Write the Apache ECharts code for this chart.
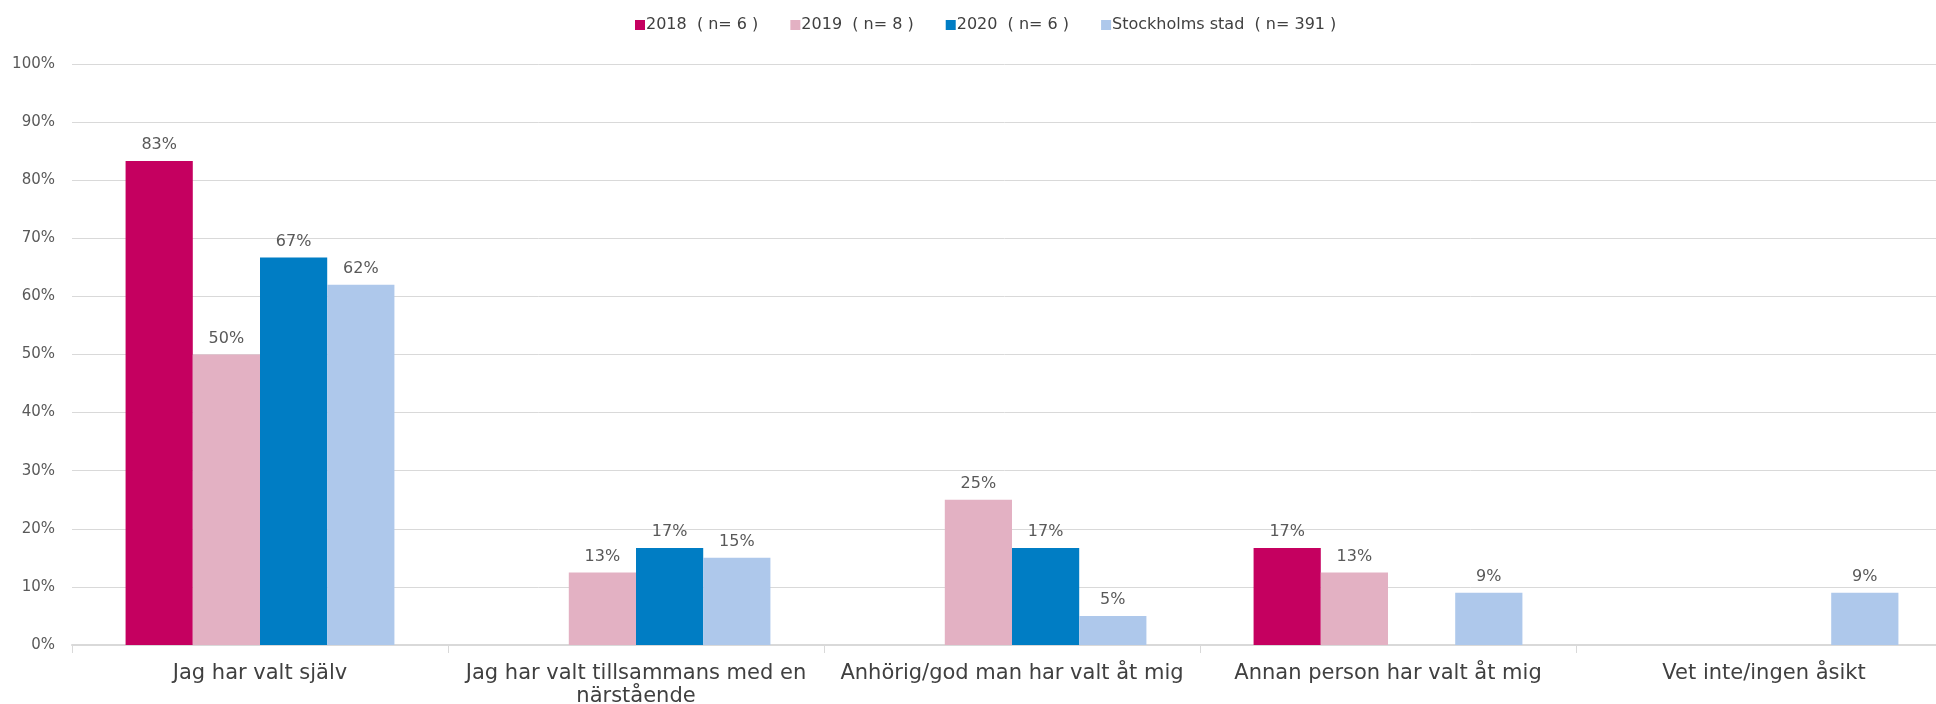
<!DOCTYPE html>
<html>
<head>
<meta charset="utf-8">
<script src="https://cdn.jsdelivr.net/npm/echarts@6/dist/echarts.min.js"></script>
<style>
  html, body { margin: 0; padding: 0; background: #fff; }
  #main { width: 1936px; height: 704px; }
</style>
</head>
<body>
<div id="main"></div>
<script>
var categories = ['Jag har valt själv', 'Jag har valt tillsammans med en\nnärstående', 'Anhörig/god man har valt åt mig', 'Annan person har valt åt mig', 'Vet inte/ingen åsikt'];
var seriesNames = ['2018  ( n= 6 )', '2019  ( n= 8 )', '2020  ( n= 6 )', 'Stockholms stad  ( n= 391 )'];
var data2018 = [83.3, null, null, 16.7, null];
var data2019 = [50, 12.5, 25, 12.5, null];
var data2020 = [66.7, 16.7, 16.7, null, null];
var dataSthlm = [62, 15, 5, 9, 9];
var yTicks = [0, 10, 20, 30, 40, 50, 60, 70, 80, 90, 100];

var colors = ['#C50060', '#E3B1C3', '#007DC4', '#AEC8EB'];
var allData = [data2018, data2019, data2020, dataSthlm];
var font = 'DejaVu Sans';

var myChart = echarts.init(document.getElementById('main'));

var series = [];
for (var i = 0; i < seriesNames.length; i++) {
    series.push({
        name: seriesNames[i],
        type: 'bar',
        data: allData[i],
        barGap: '0%',
        barCategoryGap: '28.5%',
        itemStyle: { color: colors[i] },
        label: {
            show: true,
            position: 'top',
            distance: 8,
            color: '#595959',
            fontSize: 16,
            fontFamily: font,
            formatter: function (p) { return p.value == null ? '' : Math.round(p.value) + '%'; }
        }
    });
}

var option = {
    animation: false,
    color: colors,
    textStyle: { fontFamily: font },
    legend: {
        top: 12,
        left: 630,
        itemWidth: 10,
        itemHeight: 10,
        itemGap: 32,
        icon: 'rect',
        textStyle: { fontSize: 16, color: '#404040', fontFamily: font, padding: [0, 0, 0, -4] },
        data: seriesNames
    },
    grid: { left: 72, right: -16, top: 64, bottom: 59, containLabel: false, outerBoundsMode: 'none' },
    xAxis: {
        type: 'category',
        data: categories,
        axisLine: { lineStyle: { color: '#D9D9D9', width: 2 } },
        axisTick: { show: true, length: 8, lineStyle: { color: '#D9D9D9' } },
        axisLabel: {
            fontSize: 21,
            fontFamily: font,
            color: '#404040',
            margin: 17,
            lineHeight: 23,
            interval: 0
        }
    },
    yAxis: {
        type: 'value',
        min: 0,
        max: 100,
        interval: 10,
        axisLine: { show: false },
        axisTick: { show: false },
        splitLine: { lineStyle: { color: '#D9D9D9', width: 1 } },
        axisLabel: {
            fontSize: 15,
            fontFamily: font,
            color: '#595959',
            margin: 17,
            formatter: function (v) { return yTicks.indexOf(v) >= 0 ? v + '%' : ''; }
        }
    },
    series: series
};
myChart.setOption(option);
</script>
</body>
</html>
